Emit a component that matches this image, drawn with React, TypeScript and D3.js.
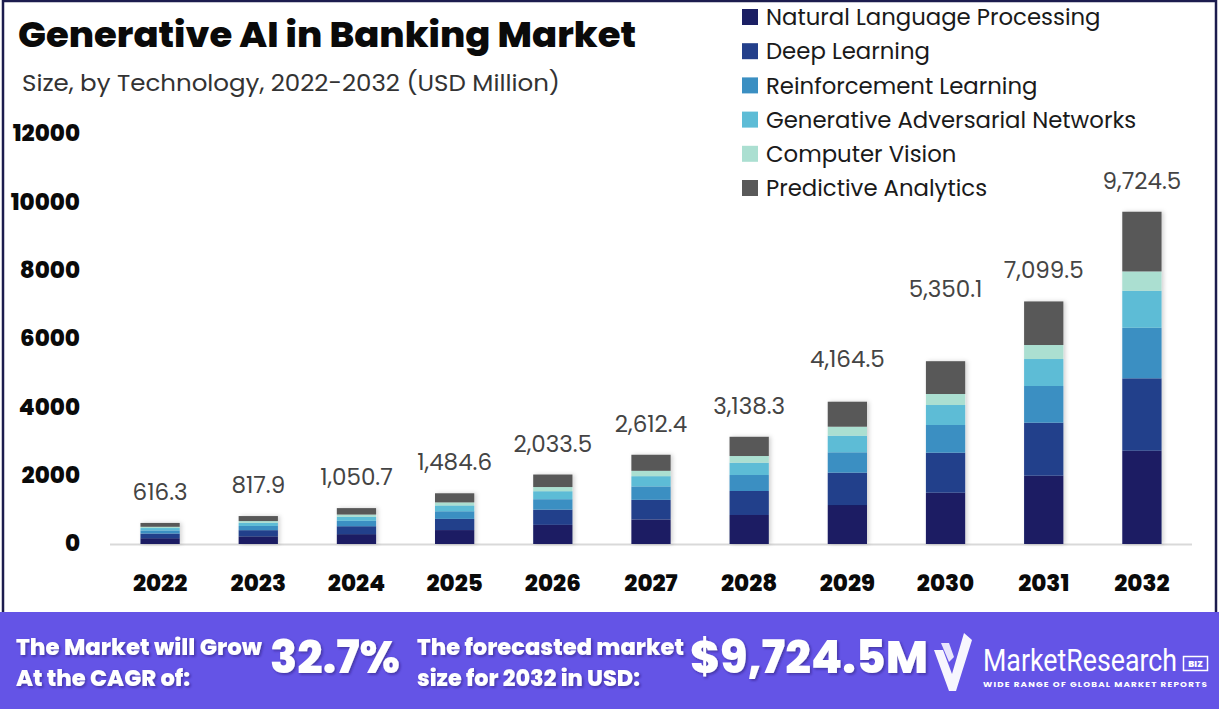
import React, { useLayoutEffect, useRef, useState } from "react";
import * as d3 from "d3";

const years = ["2022", "2023", "2024", "2025", "2026", "2027", "2028", "2029", "2030", "2031", "2032"];
const seriesNames = [
  "Natural Language Processing",
  "Deep Learning",
  "Reinforcement Learning",
  "Generative Adversarial Networks",
  "Computer Vision",
  "Predictive Analytics",
];
const nlp = [170, 225, 289, 408, 559, 718, 849, 1141, 1501, 1999, 2730];
const deepLearning = [135, 180, 231, 327, 447, 575, 702, 946, 1171, 1551, 2119];
const reinforcement = [92, 123, 158, 223, 305, 392, 468, 597, 811, 1074, 1481];
const gan = [70, 94, 121, 171, 234, 300, 360, 486, 585, 790, 1083];
const computerVision = [37, 49, 63, 89, 122, 157, 196, 263, 322, 410, 565];
const predictive = [112.3, 146.9, 188.7, 266.6, 366.5, 470.4, 563.3, 731.5, 960.1, 1275.5, 1746.5];
const totalLabels = ["616.3", "817.9", "1,050.7", "1,484.6", "2,033.5", "2,612.4", "3,138.3", "4,164.5", "5,350.1", "7,099.5", "9,724.5"];
const yTicks = [0, 2000, 4000, 6000, 8000, 10000, 12000];

const colors = ["#1b1f64", "#233f8b", "#3b8fc2", "#5dbcd6", "#abdfd1", "#595959"];
// extra upward nudges (px) for a few total labels, as in the reference
const labelNudge = [0, 0, 0, 0, 0, 0, 0, 12, 41, 0, 0];

const FONT = "Poppins, Inter, 'Open Sans', sans-serif";

export default function App() {
  const W = 1219;
  const H = 709;
  const logoRef = useRef<SVGTextElement>(null);
  const [logoScale, setLogoScale] = useState(0.85);
  useLayoutEffect(() => {
    if (logoRef.current) {
      const w = logoRef.current.getComputedTextLength();
      if (w > 0) setLogoScale(194 / w);
    }
  }, []);

  const seriesData = [nlp, deepLearning, reinforcement, gan, computerVision, predictive];
  const rows = years.map((y, i) => {
    const r: any = { year: y };
    seriesNames.forEach((s, k) => (r[s] = seriesData[k][i]));
    return r;
  });
  const stack = d3.stack<any>().keys(seriesNames)(rows);
  const x = d3.scaleBand<string>().domain(years).range([111, 1191]).paddingInner(0.6).paddingOuter(0.3);
  const y = d3.scaleLinear().domain([0, 12000]).range([544, 134]);

  return (
    <svg width={W} height={H} style={{ display: "block", position: "absolute", left: 0, top: 0 }} fontFamily={FONT}>
      <defs>
        <filter id="sh" x="-30%" y="-10%" width="160%" height="130%">
          <feDropShadow dx="2" dy="0" stdDeviation="2" floodColor="#000" floodOpacity="0.18" />
        </filter>
        <filter id="tsh" x="-10%" y="-20%" width="120%" height="140%">
          <feDropShadow dx="1.5" dy="1.5" stdDeviation="1" floodColor="#1a1060" floodOpacity="0.5" />
        </filter>
      </defs>
      <rect x={0} y={0} width={W} height={H} fill="#ffffff" />
      {/* frame */}
      <rect x={3} y={1} width={1213} height={640} fill="none" stroke="#1c1c4e" strokeWidth={2.5} />

      {/* title */}
      <text x={18} y={47} fontSize={35} fontWeight={800} fill="#0a0a0a" textLength={618} lengthAdjust="spacingAndGlyphs">
        Generative AI in Banking Market
      </text>
      <text x={22} y={91} fontSize={23} fill="#333333" textLength={538} lengthAdjust="spacingAndGlyphs">
        Size, by Technology, 2022-2032 (USD Million)
      </text>

      {/* y ticks */}
      {yTicks.map((t) => (
        <text key={t} x={80} y={y(t) - 1} dy="0.36em" textAnchor="end" fontSize={23} fontWeight={800} fill="#0a0a0a">
          {t}
        </text>
      ))}

      {/* axis line */}
      <line x1={110} x2={1192} y1={544.5} y2={544.5} stroke="#d9d9d9" strokeWidth={2} />

      {/* bars */}
      <g filter="url(#sh)">
        {stack.map((layer, k) =>
          layer.map((d, i) => (
            <rect
              key={k + "-" + i}
              x={x(years[i])}
              y={y(d[1])}
              width={x.bandwidth()}
              height={y(d[0]) - y(d[1])}
              fill={colors[k]}
            />
          ))
        )}
      </g>

      {/* total labels */}
      {years.map((yr, i) => {
        const top = stack[stack.length - 1][i][1];
        return (
          <text
            key={yr}
            x={(x(yr) as number) + x.bandwidth() / 2}
            y={y(top) - 23 - labelNudge[i]}
            textAnchor="middle"
            fontSize={23}
            fill="#444444"
          >
            {totalLabels[i]}
          </text>
        );
      })}

      {/* x labels */}
      {years.map((yr) => (
        <text key={yr} x={(x(yr) as number) + x.bandwidth() / 2} y={591} textAnchor="middle" fontSize={23} fontWeight={800} fill="#0a0a0a">
          {yr}
        </text>
      ))}

      {/* legend */}
      {seriesNames.map((s, k) => (
        <g key={s} transform={`translate(742, ${17 + k * 34.2})`}>
          <rect x={0} y={-8} width={16} height={16} fill={colors[k]} />
          <text x={24} y={0} dy="0.36em" fontSize={22.8} fill="#1a1a1a">
            {s}
          </text>
        </g>
      ))}

      {/* footer */}
      <rect x={0} y={612} width={W} height={97} fill="#6454e6" />
      <g fill="#ffffff" fontWeight={800} filter="url(#tsh)">
        <text x={16} y={655} fontSize={22} textLength={246} lengthAdjust="spacingAndGlyphs">The Market will Grow</text>
        <text x={16} y={686} fontSize={22} textLength={174} lengthAdjust="spacingAndGlyphs">At the CAGR of:</text>
        <text x={270} y={673} fontSize={46} textLength={130} lengthAdjust="spacingAndGlyphs">32.7%</text>
        <text x={417} y={655} fontSize={22} textLength={267} lengthAdjust="spacingAndGlyphs">The forecasted market</text>
        <text x={417} y={686} fontSize={22} textLength={223} lengthAdjust="spacingAndGlyphs">size for 2032 in USD:</text>
        <text x={690} y={673} fontSize={46} textLength={238} lengthAdjust="spacingAndGlyphs">$9,724.5M</text>
      </g>
      {/* logo */}
      <g fill="#ffffff">
        <path d="M934,650 L943,650 L952,674 L964,633 L972,640 L956,691 L949,691 Z" opacity={0.95} />
        <path d="M941,643 L949,643 L954,657 L949,662 Z" opacity={0.85} />
        <g transform={`translate(983,671) scale(${logoScale},1)`}>
          <text ref={logoRef} x={0} y={0} fontSize={31} fontWeight={400} fontFamily="'Liberation Sans Narrow', 'Roboto', sans-serif">
            MarketResearch
          </text>
        </g>
        <rect x={1183.5} y={656.5} width={24} height={14} fill="none" stroke="#ffffff" strokeWidth={1.5} />
        <text x={1195.5} y={667} textAnchor="middle" fontSize={9} fontWeight={800} fill="#ffffff">BIZ</text>
        <text x={983} y={687} fontSize={7.5} fontWeight={700} textLength={225} lengthAdjust="spacingAndGlyphs" letterSpacing={1}>
          WIDE RANGE OF GLOBAL MARKET REPORTS
        </text>
      </g>
    </svg>
  );
}
